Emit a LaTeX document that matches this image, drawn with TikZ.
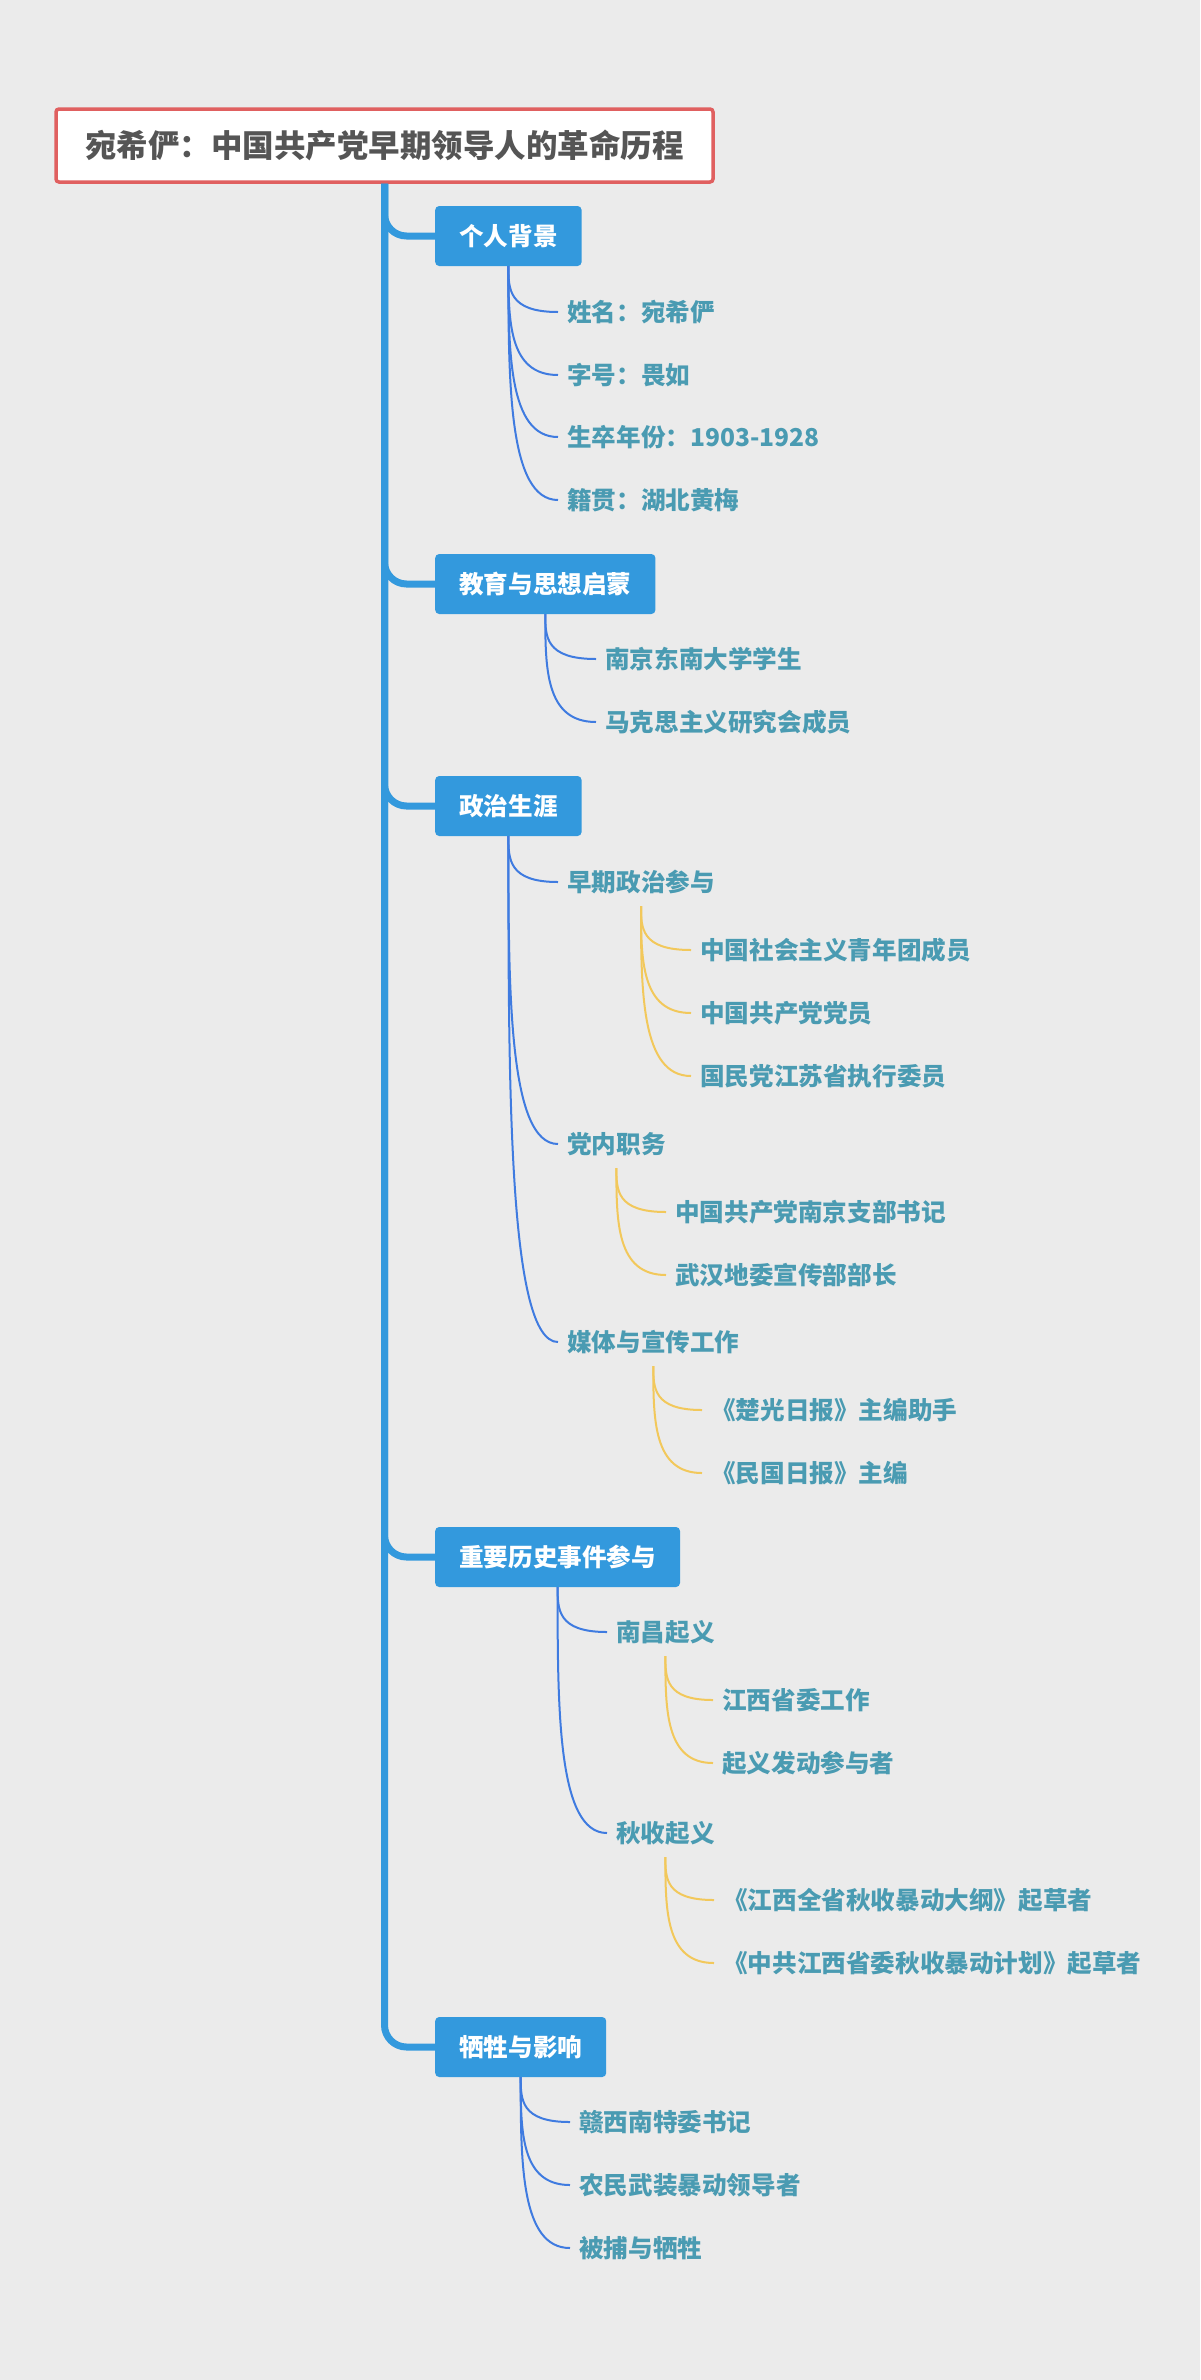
\documentclass[tikz,border=0pt]{standalone}
\usepackage{fontspec}
\setmainfont{Noto Sans CJK SC}
\usetikzlibrary{calc}
\definecolor{bgc}{HTML}{EBEBEB}
\definecolor{trunkc}{HTML}{3399DD}
\definecolor{boxc}{HTML}{3399DD}
\definecolor{titlered}{HTML}{E06060}
\definecolor{titletext}{HTML}{555555}
\definecolor{leaftext}{HTML}{4A9BB2}
\definecolor{bluelink}{HTML}{3F7BE0}
\definecolor{yellowlink}{HTML}{F2C85B}
\tikzset{
  titlebox/.style={draw=titlered, line width=3.5pt, fill=white, rounded corners=3pt,
    minimum width=657pt, minimum height=73pt, inner sep=0pt, text=titletext,
    font=\fontsize{31.5}{36}\selectfont\bfseries},
  mainbox/.style={fill=boxc, rounded corners=4pt, text=white, anchor=west,
    minimum height=60pt, inner xsep=24pt, inner ysep=0pt,
    font=\fontsize{24.6}{28}\selectfont\bfseries},
  leaf/.style={anchor=west, inner sep=0pt, text=leaftext,
    font=\fontsize{24.6}{28}\selectfont\bfseries},
  trunk/.style={draw=trunkc, line width=7pt, rounded corners=22pt},
  bluel/.style={draw=bluelink, line width=2pt},
  yell/.style={draw=yellowlink, line width=2pt},
}
\newcommand\mmlink[3]{%
  \coordinate (tmpc) at (#2|-#3.west);
  \coordinate (tmpe) at ($(#3.west)+(-9,0)$);
  \draw[#1] (#2) .. controls ($(#2)!0.5!(tmpc)$) and (tmpc) .. (tmpe);}
\newcommand\substart[2]{\coordinate (#1) at ($(#2.center)+(0,-24)$);}
\begin{document}
\begin{tikzpicture}[x=1pt,y=1pt]
\useasboundingbox[fill=bgc] (0,0) rectangle (1200,-2380);

% title
\node[titlebox] (t) at (384.5,-145.5) {宛希俨：中国共产党早期领导人的革命历程};

% level-1 boxes
\node[mainbox] (b1) at (435,-236) {个人背景};
\node[mainbox] (b2) at (435,-584) {教育与思想启蒙};
\node[mainbox] (b3) at (435,-806) {政治生涯};
\node[mainbox] (b4) at (435,-1557) {重要历史事件参与};
\node[mainbox] (b5) at (435,-2047) {牺牲与影响};

% trunk
\foreach \b in {b1,b2,b3,b4,b5}{
  \draw[trunk] (t.south) |- (\b.west);
}

% group 1
\node[leaf] (n11) at (567,-312) {姓名：宛希俨};
\node[leaf] (n12) at (567,-375) {字号：畏如};
\node[leaf] (n13) at (567,-437) {生卒年份：1903-1928};
\node[leaf] (n14) at (567,-500) {籍贯：湖北黄梅};
\foreach \n in {n11,n12,n13,n14}{\mmlink{bluel}{b1.south}{\n}}

% group 2
\node[leaf] (n21) at (605,-659) {南京东南大学学生};
\node[leaf] (n22) at (605,-722) {马克思主义研究会成员};
\foreach \n in {n21,n22}{\mmlink{bluel}{b2.south}{\n}}

% group 3
\node[leaf] (n31) at (567,-882) {早期政治参与};
\node[leaf] (n32) at (567,-1144) {党内职务};
\node[leaf] (n33) at (567,-1342) {媒体与宣传工作};
\foreach \n in {n31,n32,n33}{\mmlink{bluel}{b3.south}{\n}}

\node[leaf] (n311) at (700,-950) {中国社会主义青年团成员};
\node[leaf] (n312) at (700,-1013) {中国共产党党员};
\node[leaf] (n313) at (700,-1076) {国民党江苏省执行委员};
\substart{s31}{n31}
\foreach \n in {n311,n312,n313}{\mmlink{yell}{s31}{\n}}

\node[leaf] (n321) at (675,-1212) {中国共产党南京支部书记};
\node[leaf] (n322) at (675,-1275) {武汉地委宣传部部长};
\substart{s32}{n32}
\foreach \n in {n321,n322}{\mmlink{yell}{s32}{\n}}

\node[leaf] (n331) at (711,-1410) {《楚光日报》主编助手};
\node[leaf] (n332) at (711,-1473) {《民国日报》主编};
\substart{s33}{n33}
\foreach \n in {n331,n332}{\mmlink{yell}{s33}{\n}}

% group 4
\node[leaf] (n41) at (616,-1632) {南昌起义};
\node[leaf] (n42) at (616,-1833) {秋收起义};
\foreach \n in {n41,n42}{\mmlink{bluel}{b4.south}{\n}}

\node[leaf] (n411) at (722,-1700) {江西省委工作};
\node[leaf] (n412) at (722,-1763) {起义发动参与者};
\substart{s41}{n41}
\foreach \n in {n411,n412}{\mmlink{yell}{s41}{\n}}

\node[leaf] (n421) at (723,-1900) {《江西全省秋收暴动大纲》起草者};
\node[leaf] (n422) at (723,-1963) {《中共江西省委秋收暴动计划》起草者};
\substart{s42}{n42}
\foreach \n in {n421,n422}{\mmlink{yell}{s42}{\n}}

% group 5
\node[leaf] (n51) at (579,-2122) {赣西南特委书记};
\node[leaf] (n52) at (579,-2185) {农民武装暴动领导者};
\node[leaf] (n53) at (579,-2248) {被捕与牺牲};
\foreach \n in {n51,n52,n53}{\mmlink{bluel}{b5.south}{\n}}
\end{tikzpicture}
\end{document}
